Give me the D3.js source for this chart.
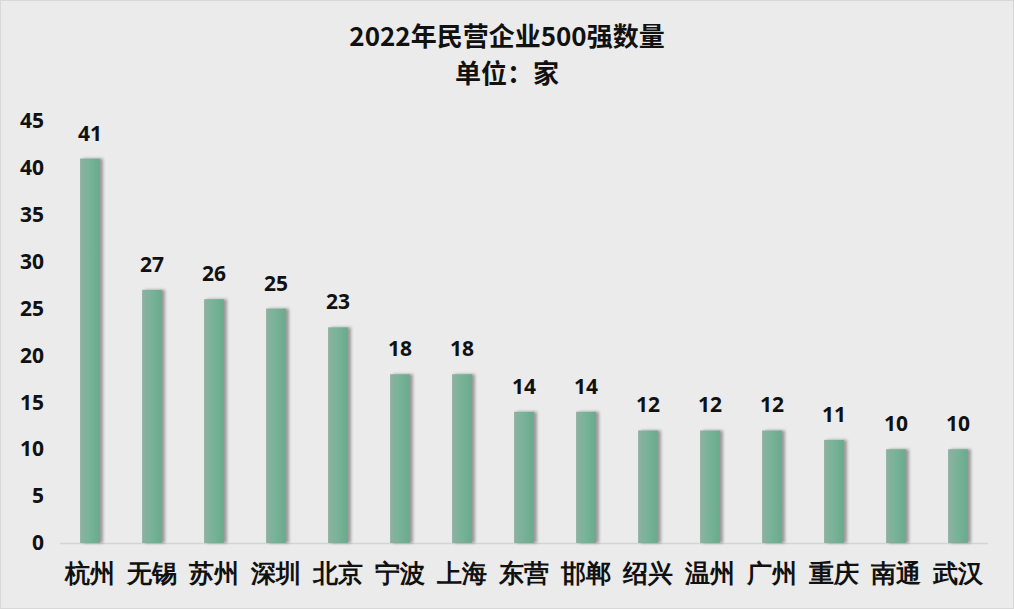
<!DOCTYPE html>
<html><head><meta charset="utf-8">
<script src="https://cdn.jsdelivr.net/npm/d3@7"></script>
<style>
html,body{margin:0;padding:0;background:#ebebeb;}
svg{display:block;font-family:"Noto Sans CJK SC","Noto Sans",sans-serif;}
</style></head>
<body>
<svg id="c" width="1014" height="609"></svg>
<script>
const categories = ["杭州","无锡","苏州","深圳","北京","宁波","上海","东营","邯郸","绍兴","温州","广州","重庆","南通","武汉"];
const values = [41,27,26,25,23,18,18,14,14,12,12,12,11,10,10];
const yTicks = [0,5,10,15,20,25,30,35,40,45];
const titleLines = ["2022年民营企业500强数量","单位：家"];

const svg = d3.select("#c");
const W = 1014, H = 609;
svg.append("rect").attr("x",0.5).attr("y",0.5).attr("width",W-1).attr("height",H-1)
  .attr("fill","#ebebeb").attr("stroke","#d8d8d8");

const defs = svg.append("defs");
const g1 = defs.append("linearGradient").attr("id","barg").attr("x1","0").attr("x2","1").attr("y1","0").attr("y2","0");
g1.append("stop").attr("offset","0%").attr("stop-color","#8fb0a2");
g1.append("stop").attr("offset","45%").attr("stop-color","#78b398");
g1.append("stop").attr("offset","100%").attr("stop-color","#6aaa8c");
const f = defs.append("filter").attr("id","sh").attr("x","-30%").attr("y","-5%").attr("width","180%").attr("height","110%");
f.append("feDropShadow").attr("dx",3).attr("dy",0).attr("stdDeviation",1.6).attr("flood-color","#000").attr("flood-opacity",0.35);

const x = d3.scaleBand().domain(categories).range([59, 989]).paddingInner(0.68).paddingOuter(0.34);
const y = d3.scaleLinear().domain([0,45]).range([543,121]);

// baseline
svg.append("line").attr("x1",60).attr("x2",988).attr("y1",y(0)+0.5).attr("y2",y(0)+0.5)
  .attr("stroke","#d4d4d4").attr("stroke-width",1.5);

// y axis
const yAxis = d3.axisLeft(y).tickValues(yTicks).tickSize(0).tickPadding(0);
const ya = svg.append("g").attr("transform","translate(44,0)").call(yAxis);
ya.select(".domain").remove();
ya.selectAll("text").attr("font-size",21).attr("font-weight","bold").attr("fill","#111")
  .attr("font-family","'Open Sans','Noto Sans',sans-serif");

// x axis
const xAxis = d3.axisBottom(x).tickSize(0).tickPadding(0);
const xa = svg.append("g").attr("transform","translate(0,563)").call(xAxis);
xa.select(".domain").remove();
xa.selectAll("text").attr("font-size",25).attr("font-weight","bold").attr("fill","#111").attr("dy","0.75em");

// bars
const data = categories.map((c,i)=>({c, v: values[i]}));
svg.append("g").selectAll("rect").data(data).join("rect")
  .attr("x", d=>x(d.c)).attr("width", x.bandwidth())
  .attr("y", d=>y(d.v)).attr("height", d=>y(0)-y(d.v))
  .attr("fill","url(#barg)").attr("filter","url(#sh)");

// value labels
svg.append("g").selectAll("text").data(data).join("text")
  .attr("x", d=>x(d.c)+x.bandwidth()/2).attr("y", d=>y(d.v)-18)
  .attr("text-anchor","middle").attr("font-size",21).attr("font-weight","bold").attr("fill","#111")
  .attr("font-family","'Open Sans','Noto Sans',sans-serif")
  .text(d=>d.v);

// title lines
svg.append("g").selectAll("text").data(titleLines).join("text")
  .attr("x",507).attr("y",(d,i)=>46+i*37)
  .attr("text-anchor","middle").attr("font-size",26).attr("font-weight","bold").attr("fill","#111")
  .text(d=>d);
</script>
</body></html>
